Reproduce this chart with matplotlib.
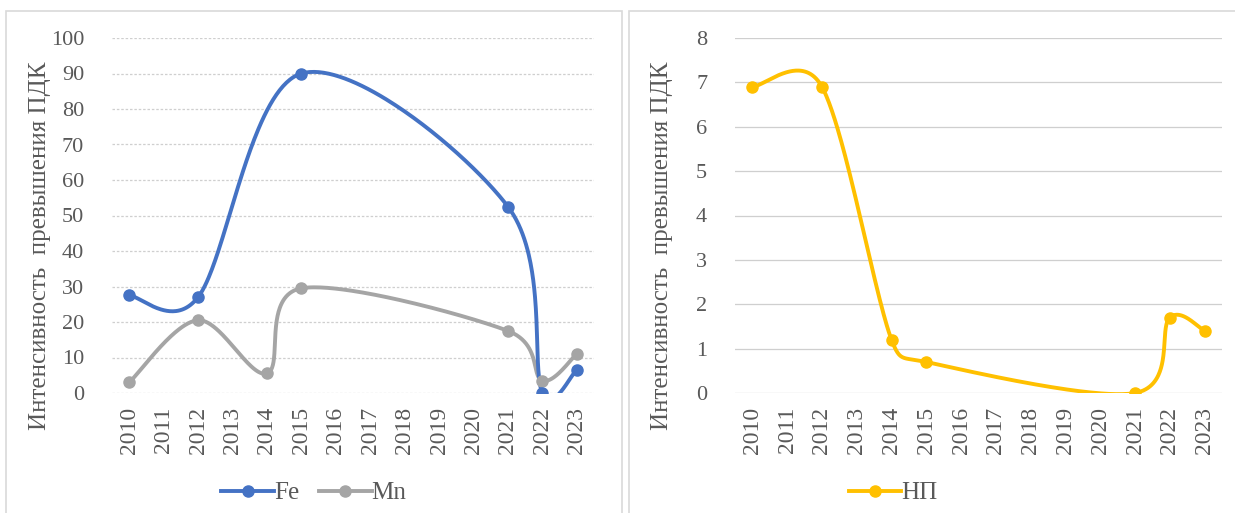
import numpy as np
import matplotlib
matplotlib.use("Agg")
import matplotlib.pyplot as plt
from matplotlib.patches import Rectangle
from matplotlib.lines import Line2D

plt.rcParams['font.family'] = ['Liberation Serif', 'DejaVu Serif']

# ------------------------------------------------------------
# Données
# ------------------------------------------------------------
years = ["2010", "2011", "2012", "2013", "2014", "2015", "2016",
         "2017", "2018", "2019", "2020", "2021", "2022", "2023"]
fe = [27.5, None, 27, None, None, 90, None, None, None, None, None, 52.5, 0, 6.5]
mn = [3, None, 20.5, None, 5.5, 29.5, None, None, None, None, None, 17.5, 3.5, 11]
np_vals = [6.9, None, 6.9, None, 1.2, 0.7, None, None, None, None, None, 0, 1.7, 1.4]

y_label = "Интенсивность  превышения ПДК"
c_fe, c_mn, c_np = "#4472C4", "#A5A5A5", "#FFC000"
c_txt = "#595959"


def smooth(values, sx, sy, n=80, cap=0.6):
    """Courbe lissée type Excel (Bezier), points manquants ignorés.
    sx, sy : pixels par unité ; la longueur des tangentes est limitée
    à cap * longueur du segment."""
    pts = np.array([(i, v) for i, v in enumerate(values) if v is not None], float)
    scale = np.array([sx, sy])

    def plen(v):
        return np.hypot(*(v * scale))

    out = [pts[0]]
    for k in range(len(pts) - 1):
        p0 = pts[k - 1] if k > 0 else pts[k]
        p1, p2 = pts[k], pts[k + 1]
        p3 = pts[k + 2] if k + 2 < len(pts) else pts[k + 1]
        d12 = plen(p2 - p1)
        t1 = (p2 - p0) / 6
        t2 = (p3 - p1) / 6
        if plen(t1) > cap * d12:
            t1 = t1 * cap * d12 / plen(t1)
        if plen(t2) > cap * d12:
            t2 = t2 * cap * d12 / plen(t2)
        c1, c2 = p1 + t1, p2 - t2
        t = np.linspace(0, 1, n)[1:, None]
        seg = ((1 - t) ** 3) * p1 + 3 * ((1 - t) ** 2) * t * c1 \
            + 3 * (1 - t) * t ** 2 * c2 + t ** 3 * p2
        out.extend(seg)
    out = np.array(out)
    return out[:, 0], out[:, 1]


def markers(values):
    idx = [i for i, v in enumerate(values) if v is not None]
    return idx, [values[i] for i in idx]


def style_axis(ax, ymax, step, grid_ls):
    ax.set_xlim(-0.5, len(years) - 0.5)
    ax.set_ylim(0, ymax)
    ax.set_yticks(np.arange(0, ymax + step / 2, step))
    ax.set_xticks(range(len(years)))
    ax.set_xticklabels(years, rotation=90, fontsize=17, color=c_txt)
    ax.tick_params(axis="y", labelsize=16, labelcolor=c_txt, length=0, pad=20)
    ax.tick_params(axis="x", length=0, pad=10)
    ax.grid(axis="y", color="#cfcfcf", linestyle=grid_ls, linewidth=0.9)
    ax.set_axisbelow(True)
    for s in ax.spines.values():
        s.set_visible(False)
    ax.set_ylabel(y_label, fontsize=18, color=c_txt, va="center")
    ax.yaxis.set_label_coords(-0.149, 0.414)


fig = plt.figure(figsize=(12.35, 5.13), dpi=100)

# cadres des deux graphiques
for x0, x1 in [(6, 622), (629, 1240)]:
    fig.patches.append(Rectangle((x0 / 1235, -0.05), (x1 - x0) / 1235, 1 - 11 / 513 + 0.05,
                                 transform=fig.transFigure, fill=False,
                                 edgecolor="#d9d9d9", linewidth=1.2))

leg_kw = dict(loc="center", frameon=False, fontsize=18, handlelength=2.1,
              handletextpad=0.0, columnspacing=0.8, labelcolor=c_txt)

# ------------------------------------------------------------
# 1. Fe et Mn
# ------------------------------------------------------------
ax1 = fig.add_axes([112 / 1235, 1 - 393 / 513, 482 / 1235, 355 / 513])
style_axis(ax1, 100, 10, (0, (2, 1.5)))
for vals, c in [(mn, c_mn), (fe, c_fe)]:
    xs, ys = smooth(vals, 482 / 14, 355 / 100)
    ax1.plot(xs, ys, color=c, linewidth=2.8, solid_capstyle="round", zorder=3)
    mx, my = markers(vals)
    ax1.plot(mx, my, "o", color=c, markersize=8, zorder=4)

h_fe = Line2D([], [], color=c_fe, linewidth=2.8, marker="o", markersize=8)
h_mn = Line2D([], [], color=c_mn, linewidth=2.8, marker="o", markersize=8)
fig.legend([h_fe, h_mn], ["Fe", "Mn"], ncol=2,
           bbox_to_anchor=(314 / 1235, 1 - 493 / 513), **leg_kw)

# ------------------------------------------------------------
# 2. НП
# ------------------------------------------------------------
ax2 = fig.add_axes([735 / 1235, 1 - 393 / 513, 487 / 1235, 355 / 513])
style_axis(ax2, 8, 1, "-")
xs, ys = smooth(np_vals, 487 / 14, 355 / 8)
ax2.plot(xs, ys, color=c_np, linewidth=2.8, solid_capstyle="round", zorder=3)
mx, my = markers(np_vals)
ax2.plot(mx, my, "o", color=c_np, markersize=8, zorder=4)

h_np = Line2D([], [], color=c_np, linewidth=2.8, marker="o", markersize=8)
fig.legend([h_np], ["НП"], bbox_to_anchor=(893 / 1235, 1 - 493 / 513), **leg_kw)

fig.savefig("out.png", dpi=100, facecolor="white")
